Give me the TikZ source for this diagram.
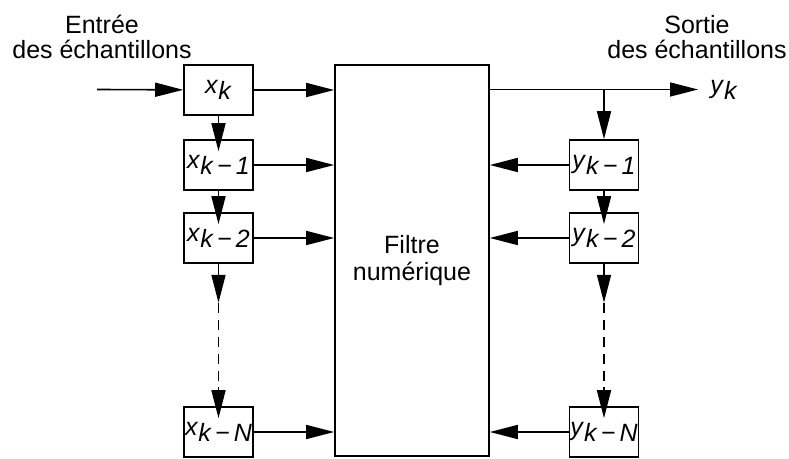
\documentclass[tikz,border=0pt]{standalone}
\usepackage{fontspec}
\setmainfont{Liberation Sans}
\usetikzlibrary{arrows.meta, positioning, calc}
\newcommand{\smpl}[2]{\textit{#1}\raisebox{-0.45ex}{\textit{#2}}}

\begin{document}
\begin{tikzpicture}[
    x=0.5pt, y=-0.5pt,
    box/.style={rectangle, draw, line width=0.8pt, minimum width=34.5pt, minimum height=25pt, inner sep=0pt, font=\fontsize{12.5}{13}\selectfont},
    filtre/.style={rectangle, draw, line width=0.8pt, minimum width=77pt, minimum height=195.5pt, align=center, font=\fontsize{12.5}{13.5}\selectfont},
    arrow/.style={-{Triangle[length=14pt, width=7pt]}, line width=0.8pt},
    darrow/.style={arrow, shorten >=-6pt},
    titre/.style={align=center, font=\fontsize{12.5}{12.5}\selectfont}
]
\useasboundingbox (0,0) rectangle (789,459);
\node[filtre] (f) at (412,260.5) {Filtre\\numérique};

% registres d'entree
\node[box] (x0) at (218.5,90) {\smpl{x}{k}};
\node[box] (x1) at (218.5,165) {\smpl{x}{k\,−\,1}};
\node[box] (x2) at (218.5,238) {\smpl{x}{k\,−\,2}};
\node[box] (xN) at (218.5,432) {\smpl{x}{k\,−\,N}};

% registres de sortie
\node[box] (y1) at (604,165) {\smpl{y}{k\,−\,1}};
\node[box] (y2) at (604,238) {\smpl{y}{k\,−\,2}};
\node[box] (yN) at (604,432) {\smpl{y}{k\,−\,N}};

\node[titre] (entree) at (102,37) {Entrée\\des échantillons};
\node[titre] (sortie) at (697,37) {Sortie\\des échantillons};

\coordinate (in) at (97,89.5);
\coordinate (out) at (698,89.5);
\node[right=6pt of out, inner sep=0pt, font=\fontsize{12.5}{13}\selectfont] (yk) {\smpl{y}{k}};

\draw[arrow] (in) -- (x0);
\draw[arrow] (x0) -- (x0 -| f.west);
\draw[arrow] (x1) -- (x1 -| f.west);
\draw[arrow] (x2) -- (x2 -| f.west);
\draw[arrow] (xN) -- (xN -| f.west);
\draw[darrow] (x0.south) -- (x1.north);
\draw[darrow] (x1.south) -- (x2.north);

\draw[arrow] (f.east |- out) -- (out);
\draw[arrow] (y1 |- out) -- (y1.north);
\draw[arrow] (y1) -- (y1 -| f.east);
\draw[arrow] (y2) -- (y2 -| f.east);
\draw[arrow] (yN) -- (yN -| f.east);
\draw[darrow] (y1.south) -- (y2.north);

% pointilles
\coordinate (xa) at ($(x2.south)+(0,39)$);
\coordinate (xb) at ($(xN.north)+(0,-19)$);
\draw[arrow] (x2.south) -- (xa);
\draw[line width=0.8pt, dash pattern=on 5pt off 3.5pt] (xa) -- (xb);
\draw[darrow] (xb) -- (xN.north);
\coordinate (ya) at ($(y2.south)+(0,39)$);
\coordinate (yb) at ($(yN.north)+(0,-19)$);
\draw[arrow] (y2.south) -- (ya);
\draw[line width=0.8pt, dash pattern=on 5pt off 3.5pt] (ya) -- (yb);
\draw[darrow] (yb) -- (yN.north);
\end{tikzpicture}
\end{document}
